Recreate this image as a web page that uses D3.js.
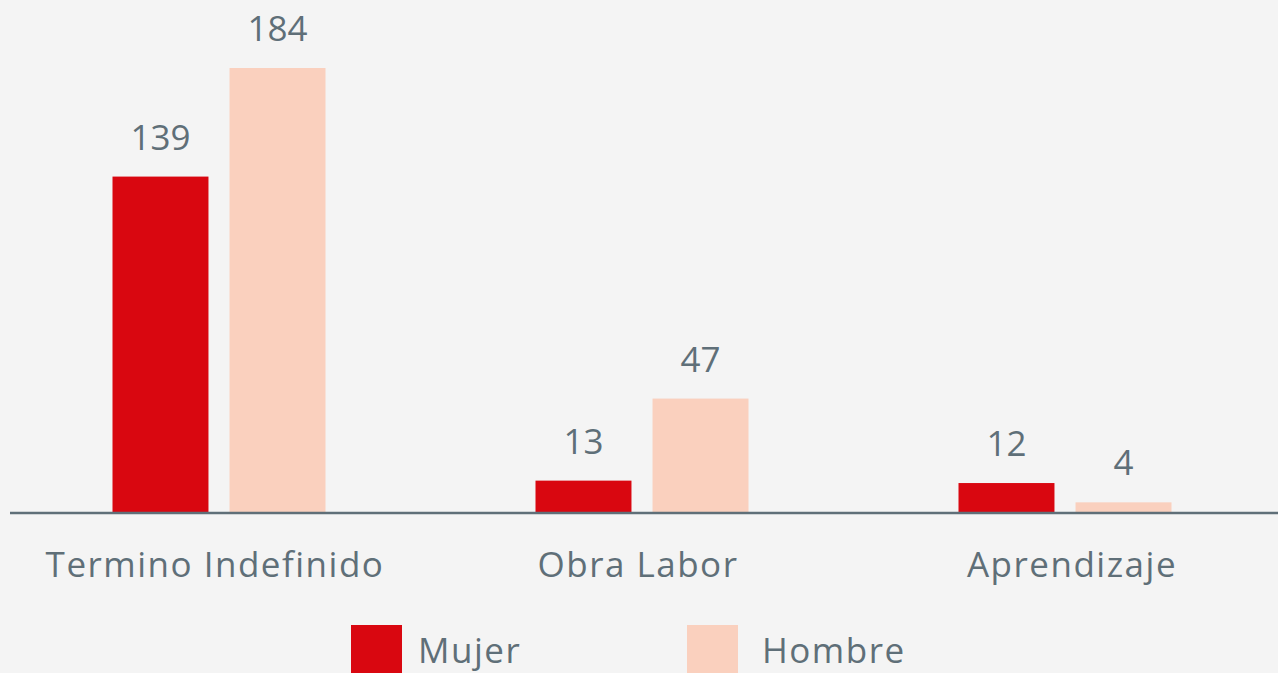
<!DOCTYPE html>
<html>
<head>
<meta charset="utf-8">
<script src="https://cdn.jsdelivr.net/npm/d3@7"></script>
<style>
  html, body { margin: 0; padding: 0; background: #f4f4f4; overflow: hidden; }
  text { font-family: "Open Sans", "Noto Sans", sans-serif; fill: #5f6f78; }
</style>
</head>
<body>
<div id="chart"></div>
<script>
var categories = ["Termino Indefinido", "Obra Labor", "Aprendizaje"];
var series = ["Mujer", "Hombre"];
var mujer = [139, 13, 12];
var hombre = [184, 47, 4];
var colors = ["#d90710", "#fad0be"];

var W = 1278, H = 673;
var baseY = 512;

var svg = d3.select("#chart")
  .append("svg")
    .attr("width", W)
    .attr("height", H);

svg.append("rect")
  .attr("width", W)
  .attr("height", H)
  .attr("fill", "#f4f4f4");

var data = categories.map(function(c, i) {
  return { cat: c, values: [ { key: "Mujer", v: mujer[i] }, { key: "Hombre", v: hombre[i] } ] };
});

var x0 = d3.scaleBand()
  .domain(categories)
  .range([7.5, 1276.5])
  .padding(0);

var x1 = d3.scaleBand()
  .domain(series)
  .range([0, 213])
  .paddingInner(0.18);

var y = d3.scaleLinear()
  .domain([0, 184])
  .range([baseY, 68]);

var color = d3.scaleOrdinal().domain(series).range(colors);

var groups = svg.selectAll("g.grp")
  .data(data)
  .enter()
  .append("g")
    .attr("class", "grp")
    .attr("transform", function(d) {
      return "translate(" + (x0(d.cat) + x0.bandwidth() / 2 - 106.5) + ",0)";
    });

groups.selectAll("rect")
  .data(function(d) { return d.values; })
  .enter()
  .append("rect")
    .attr("x", function(d) { return x1(d.key); })
    .attr("y", function(d) { return y(d.v); })
    .attr("width", x1.bandwidth())
    .attr("height", function(d) { return baseY - y(d.v); })
    .attr("fill", function(d) { return color(d.key); });

groups.selectAll("text.val")
  .data(function(d) { return d.values; })
  .enter()
  .append("text")
    .attr("class", "val")
    .attr("x", function(d) { return x1(d.key) + x1.bandwidth() / 2; })
    .attr("y", function(d) { return y(d.v) - 27; })
    .attr("text-anchor", "middle")
    .style("font-size", "35px")
    .text(function(d) { return d.v; });

// baseline
svg.append("line")
  .attr("x1", 10)
  .attr("x2", W)
  .attr("y1", baseY + 1)
  .attr("y2", baseY + 1)
  .attr("stroke", "#5f6f78")
  .attr("stroke-width", 2.5);

// category labels
var catDx = [-4, -4, 7];
svg.selectAll("text.cat")
  .data(categories)
  .enter()
  .append("text")
    .attr("class", "cat")
    .attr("x", function(d, i) { return x0(d) + x0.bandwidth() / 2 + catDx[i]; })
    .attr("y", 577)
    .attr("text-anchor", "middle")
    .style("font-size", "35px")
    .style("letter-spacing", "1.5px")
    .text(function(d) { return d; });

// legend
var legendX = [351, 687];
var legendTextX = [67, 75];
var legend = svg.selectAll("g.leg")
  .data(series)
  .enter()
  .append("g")
    .attr("class", "leg")
    .attr("transform", function(d, i) { return "translate(" + legendX[i] + ",625)"; });

legend.append("rect")
  .attr("width", 51)
  .attr("height", 51)
  .attr("fill", function(d) { return color(d); });

legend.append("text")
  .attr("x", function(d, i) { return legendTextX[i]; })
  .attr("y", 38)
  .style("font-size", "35px")
  .style("letter-spacing", "1.5px")
  .text(function(d) { return d; });
</script>
</body>
</html>
